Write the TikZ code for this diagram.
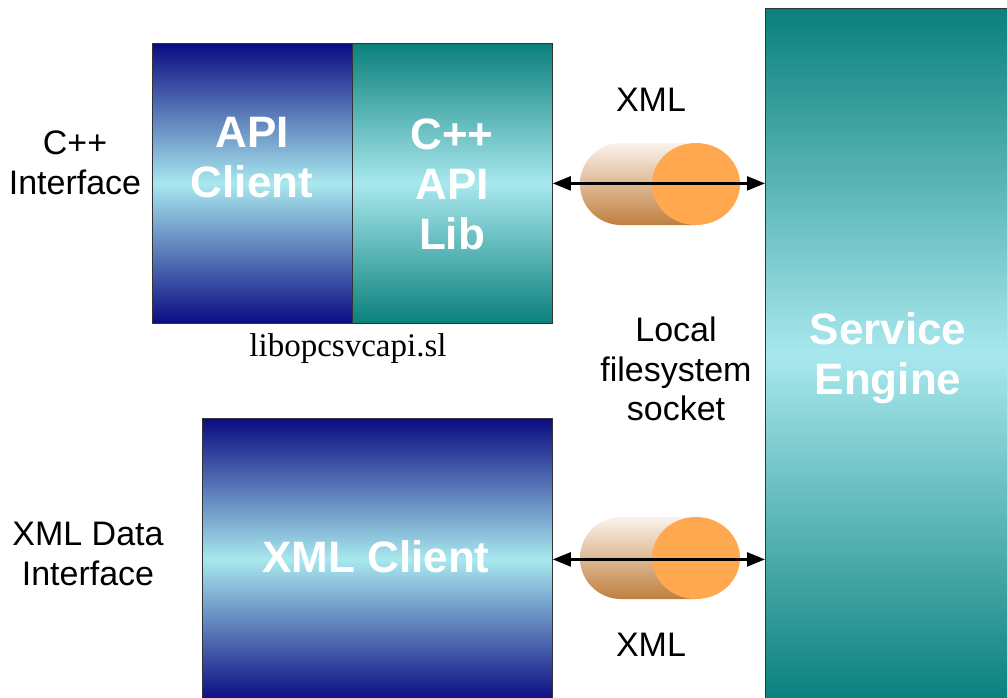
\documentclass[tikz,border=0pt]{standalone}
\usepackage{fontspec}
\setmainfont{Liberation Sans}
\newfontfamily\libserif{Liberation Serif}
\usetikzlibrary{arrows.meta}
\definecolor{navyc}{HTML}{0B0B82}
\definecolor{tealc}{HTML}{0A807C}
\definecolor{palec}{HTML}{A8E8EE}
\definecolor{cyltop}{HTML}{FBF3EC}
\definecolor{cylbot}{HTML}{BF7F3E}
\definecolor{orangec}{HTML}{FFA84F}
\begin{document}
\begin{tikzpicture}[x=1pt,y=-1pt,
  blk/.style={draw=black!80, line width=0.8pt, inner sep=0pt, anchor=north west},
  bluegrad/.style={top color=navyc, bottom color=navyc, middle color=palec},
  tealgrad/.style={top color=tealc, bottom color=tealc, middle color=palec},
  boxlbl/.style={text=white, font=\bfseries\fontsize{44}{50}\selectfont, align=center, inner sep=0pt},
  lbl/.style={font=\fontsize{34}{39.5}\selectfont, align=center, inner sep=0pt},
  dblarrow/.style={{Triangle[length=18pt,width=14pt]}-{Triangle[length=18pt,width=14pt]}, line width=2.4pt, black}
]
\useasboundingbox (0,0) rectangle (1007,697);
\fill[white] (0,0) rectangle (1007,697);

% boxes
\node[blk, bluegrad, minimum width=200pt, minimum height=280pt] (apiclient) at (152,43) {};
\node[blk, tealgrad, minimum width=200pt, minimum height=280pt] (apilib) at (352,43) {};
\node[blk, bluegrad, minimum width=350pt, minimum height=282pt] (xmlclient) at (202,418) {};
\node[blk, tealgrad, minimum width=242pt, minimum height=692pt] (engine) at (765,8) {};

% box labels
\node[boxlbl] (tapiclient) at (252,158) {API\\Client};
\node[boxlbl] (tapilib) at (452,184) {C++\\API\\Lib};
\node[boxlbl] (txmlclient) at (376,557) {XML Client};
\node[boxlbl] (tengine) at (888,358) {Service\\Engine};

% cylinders
\path[top color=cyltop, bottom color=cylbot]
  (696,143) -- (621,143) arc[start angle=-90, end angle=-270, x radius=41, y radius=41] -- (696,225) -- cycle;
\fill[orangec] (696,184) ellipse[x radius=44, y radius=41];
\path[top color=cyltop, bottom color=cylbot]
  (696,517) -- (621,517) arc[start angle=-90, end angle=-270, x radius=41, y radius=41] -- (696,599) -- cycle;
\fill[orangec] (696,558) ellipse[x radius=44, y radius=41];

% arrows
\draw[dblarrow] (apilib.east) -- (engine.west |- apilib.east);
\draw[dblarrow] (xmlclient.east) -- (engine.west |- xmlclient.east);

% labels
\node[lbl] (cppif) at (75,163) {C++\\Interface};
\node[lbl] (xmlif) at (88,554) {XML Data\\Interface};
\node[lbl] (xmltop) at (651,100) {XML};
\node[lbl] (xmlbot) at (651,645) {XML};
\node[lbl] (local) at (676,369) {Local\\filesystem\\socket};
\node[inner sep=0pt, font=\libserif\fontsize{33}{40}\selectfont] (libname) at (348,349) {libopcsvcapi.sl};
\end{tikzpicture}
\end{document}
